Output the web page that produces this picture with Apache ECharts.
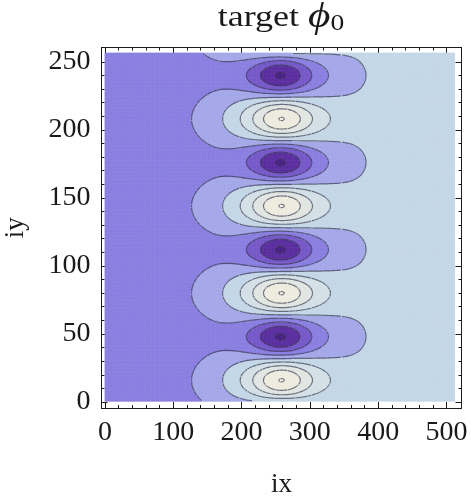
<!DOCTYPE html>
<html>
<head>
<meta charset="utf-8">
<script src="https://cdn.jsdelivr.net/npm/echarts@6/dist/echarts.min.js"></script>
<style>
  html, body { margin: 0; padding: 0; background: #fff; }
  #chart { width: 471px; height: 497px; }
</style>
</head>
<body>
<div id="chart"></div>
<script>
// ---- axes ----
const xRange = [-5, 522];
const yRange = [-4.4, 260.5];
const xMajorTicks = [0, 100, 200, 300, 400, 500];
const xMinorTicks = [20, 40, 60, 80, 120, 140, 160, 180, 220, 240, 260, 280, 320, 340, 360, 380, 420, 440, 460, 480];
const yMajorTicks = [0, 50, 100, 150, 200, 250];
const yMinorTicks = [10, 20, 30, 40, 60, 70, 80, 90, 110, 120, 130, 140, 160, 170, 180, 190, 210, 220, 230, 240];

// ---- sampled lattice (ix, iy) ----
const ixExtent = [0, 512];
const iyExtent = [0.5, 256.5];
const ixStep = 2;
const iyStep = 1;

// ---- target field phi0: two smooth steps across ix plus alternating extrema along ix ~ 258 ----
const stepLevels = [2.5, 4.04, 4.5];  // plateau value left / middle / right
const stepCenters = [166, 390];
const stepWidths = [60, 30];
const extremaColumn = [258];          // ix of the row of extrema
const extremaWidth = [34];
const extremaAmp = [4.06];
const extremaPeriod = [64];           // iy distance between equal-sign extrema

// ---- contour levels and band colours ----
const contourLevels = [0, 1, 2, 3, 4, 5, 6, 7, 8];
const bandColors = ['#4a2088', '#5b2f9f', '#7659c8', '#8a7fe0', '#a4a8e8',
                    '#c4d7e7', '#d3e0e6', '#e1e6e2', '#eeebdf', '#f6f3e8'];

function background(x) {
  let v = stepLevels[0];
  for (let k = 0; k < stepCenters.length; k++) {
    v += (stepLevels[k + 1] - stepLevels[k]) * (1 + Math.tanh((x - stepCenters[k]) / stepWidths[k])) / 2;
  }
  return v;
}
function envelope(x) {
  return 1 / Math.cosh((x - extremaColumn[0]) / extremaWidth[0]);
}
function phi0(x, y) {
  return background(x) + extremaAmp[0] * envelope(x) * Math.sin(2 * Math.PI * y / extremaPeriod[0]);
}

// lattice nodes
const xs = [], ys = [];
for (let x = ixExtent[0] + ixStep / 2; x < ixExtent[1]; x += ixStep) xs.push(x);
for (let y = iyExtent[0] + iyStep / 2; y < iyExtent[1]; y += iyStep) ys.push(y);
const vals = ys.map(y => xs.map(x => phi0(x, y)));

const heatData = [];
for (let j = 0; j < ys.length; j++)
  for (let i = 0; i < xs.length; i++) heatData.push([i, j, vals[j][i]]);

// marching squares -> segments separated by gaps
function isoSegments(level) {
  const out = [];
  const lerp = (a, b, va, vb) => a + (b - a) * (level - va) / (vb - va);
  for (let j = 0; j < ys.length - 1; j++) {
    for (let i = 0; i < xs.length - 1; i++) {
      const v00 = vals[j][i], v10 = vals[j][i + 1], v11 = vals[j + 1][i + 1], v01 = vals[j + 1][i];
      const c = (v00 > level ? 1 : 0) | (v10 > level ? 2 : 0) | (v11 > level ? 4 : 0) | (v01 > level ? 8 : 0);
      if (c === 0 || c === 15) continue;
      const x0 = xs[i], x1 = xs[i + 1], y0 = ys[j], y1 = ys[j + 1];
      const e = [
        () => [lerp(x0, x1, v00, v10), y0],  // bottom
        () => [x1, lerp(y0, y1, v10, v11)],  // right
        () => [lerp(x0, x1, v01, v11), y1],  // top
        () => [x0, lerp(y0, y1, v00, v01)]   // left
      ];
      const seg = (a, b) => { out.push(e[a](), e[b](), ['-', '-']); };
      const center = (v00 + v10 + v11 + v01) / 4 > level;
      switch (c) {
        case 1: case 14: seg(3, 0); break;
        case 2: case 13: seg(0, 1); break;
        case 3: case 12: seg(3, 1); break;
        case 4: case 11: seg(1, 2); break;
        case 6: case 9: seg(0, 2); break;
        case 7: case 8: seg(3, 2); break;
        case 5: if (center) { seg(0, 1); seg(2, 3); } else { seg(3, 0); seg(1, 2); } break;
        case 10: if (center) { seg(3, 0); seg(1, 2); } else { seg(0, 1); seg(2, 3); } break;
      }
    }
  }
  return out;
}
let contourData = [];
contourLevels.forEach(l => { contourData = contourData.concat(isoSegments(l)); });

// ---- layout ----
const frame = { left: 101.5, top: 47.5, width: 360, height: 360.5 };
const pxX = v => frame.left + (v - xRange[0]) / (xRange[1] - xRange[0]) * frame.width;
const pyY = v => frame.top + (yRange[1] - v) / (yRange[1] - yRange[0]) * frame.height;
const cells = {
  left: pxX(ixExtent[0]), top: pyY(iyExtent[1]),
  width: pxX(ixExtent[1]) - pxX(ixExtent[0]), height: pyY(iyExtent[0]) - pyY(iyExtent[1])
};

const serif = '"Liberation Serif", "Times New Roman", serif';
const ink = '#1a1a1a';

function frameAxis(pos, ticks, len, withLine, extra) {
  const isX = pos === 'bottom' || pos === 'top';
  return Object.assign({
    gridIndex: 0, type: 'value', position: pos,
    min: isX ? xRange[0] : yRange[0], max: isX ? xRange[1] : yRange[1],
    axisLine: { show: withLine, onZero: false, lineStyle: { color: ink, width: 1 } },
    axisTick: { show: true, inside: true, length: len, customValues: ticks, lineStyle: { color: ink, width: 1 } },
    axisLabel: { show: false },
    splitLine: { show: false }
  }, extra || {});
}
const labelStyle = { fontFamily: serif, fontSize: 28, color: ink };

const option = {
  animation: false,
  backgroundColor: '#fff',
  graphic: [{
    type: 'text', x: 281, y: 18, scaleX: 1.2, silent: true,
    style: {
      text: '{a|target }{b|ϕ}{c|0}', align: 'center', verticalAlign: 'middle',
      rich: {
        a: { fontFamily: serif, fontSize: 30, fill: ink },
        b: { fontFamily: serif, fontSize: 36, fontStyle: 'italic', fill: ink },
        c: { fontFamily: serif, fontSize: 23, fill: ink, padding: [12, 0, 0, 0] }
      }
    }
  }],
  grid: [
    Object.assign({ outerBoundsMode: 'none', containLabel: false }, frame),
    Object.assign({ outerBoundsMode: 'none', containLabel: false }, cells)
  ],
  visualMap: {
    show: false, type: 'piecewise', seriesIndex: 0, dimension: 2,
    pieces: bandColors.map((c, k) => {
      const p = { color: c };
      if (k > 0) p.gte = contourLevels[k - 1];
      if (k < contourLevels.length) p.lt = contourLevels[k];
      return p;
    })
  },
  xAxis: [
    frameAxis('bottom', xMajorTicks, 6, true, {
      axisLabel: Object.assign({ show: true, customValues: xMajorTicks, margin: 11 }, labelStyle),
      name: 'ix', nameLocation: 'middle', nameGap: 63,
      nameTextStyle: { fontFamily: serif, fontSize: 27, color: ink }
    }),
    frameAxis('bottom', xMinorTicks, 3, false),
    frameAxis('top', xMajorTicks, 6, true),
    frameAxis('top', xMinorTicks, 3, false),
    { gridIndex: 1, type: 'category', data: xs, show: false }
  ],
  yAxis: [
    frameAxis('left', yMajorTicks, 6, true, {
      axisLabel: Object.assign({ show: true, customValues: yMajorTicks, margin: 11 }, labelStyle),
      name: 'iy', nameLocation: 'middle', nameGap: 72,
      nameTextStyle: { fontFamily: serif, fontSize: 27, color: ink }
    }),
    frameAxis('left', yMinorTicks, 3, false),
    frameAxis('right', yMajorTicks, 6, true),
    frameAxis('right', yMinorTicks, 3, false),
    { gridIndex: 1, type: 'category', data: ys, show: false }
  ],
  series: [
    {
      type: 'heatmap', xAxisIndex: 4, yAxisIndex: 4, data: heatData,
      progressive: 0, silent: true, emphasis: { disabled: true }
    },
    {
      type: 'line', xAxisIndex: 0, yAxisIndex: 0, data: contourData,
      showSymbol: false, symbol: 'none', silent: true, connectNulls: false,
      lineStyle: { color: 'rgba(55,55,75,0.68)', width: 1.2 }, z: 3
    }
  ]
};

const chart = echarts.init(document.getElementById('chart'), null, { renderer: 'canvas' });
chart.setOption(option);
</script>
</body>
</html>
